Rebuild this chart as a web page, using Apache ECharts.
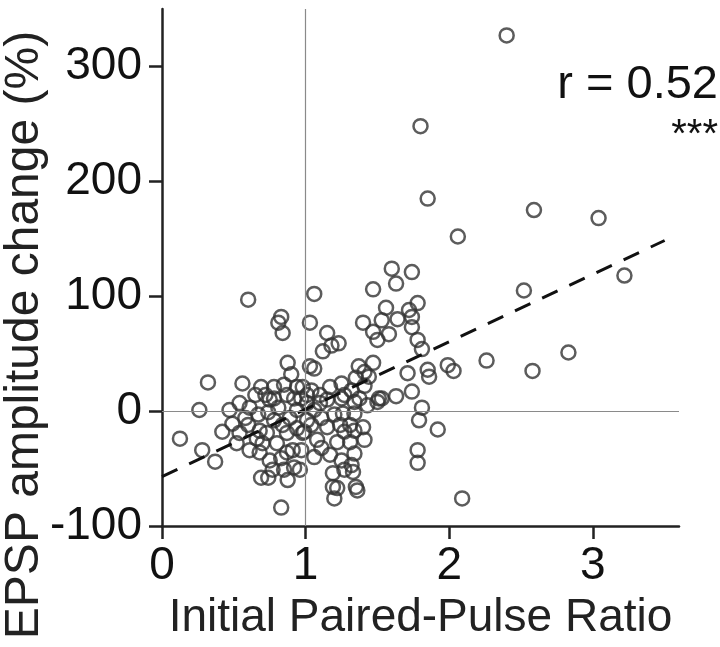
<!DOCTYPE html>
<html><head><meta charset="utf-8">
<script src="https://cdn.jsdelivr.net/npm/echarts@6/dist/echarts.min.js"></script>
<style>html,body{margin:0;padding:0;background:#fff}#c{width:720px;height:647px}</style>
</head><body><div id="c"></div>
<script>
const xTicks = [0, 1, 2, 3];
const yTicks = [-100, 0, 100, 200, 300];
const ppr = [2.40,1.80,1.85,2.06,2.59,3.04,2.52,3.22,2.83,2.58,2.26,1.99,2.03,2.09,1.81,1.79,1.92,1.78,1.78,1.85,1.86,1.71,1.74,1.63,1.53,1.60,1.74,1.63,1.78,1.56,1.72,1.74,1.64,1.53,1.74,1.58,1.78,1.81,1.50,1.47,1.06,1.03,1.40,1.47,1.15,1.23,1.18,1.12,1.03,1.06,1.37,1.47,1.41,1.35,1.44,1.25,1.17,1.41,1.51,1.25,1.34,0.98,1.01,0.97,
0.60,0.83,0.81,0.84,0.875,0.90,0.32,0.56,0.69,0.78,0.26,0.54,0.61,0.75,0.87,0.94,0.125,0.28,0.37,0.42,0.49,0.52,0.61,0.69,0.74,0.875,0.92,0.83,0.75,0.77,0.68,0.87,0.68,0.73,0.78,0.87,0.94,0.98,0.81,0.74,0.94,1.01,0.66,0.70,0.80,0.83,0.91,0.96,
0.99,1.08,1.11,1.06,1.15,1.20,1.24,1.26,1.34,1.40,1.22,1.31,1.25,1.34,1.32,1.33,1.19,1.19,1.22,1.20,1.35,1.36,1.01,1.10,1.50,
0.85,0.92,1.04,1.10,1.15,1.06,0.89,0.84,0.67,0.58,0.47,0.65,0.72,0.78,1.04,1.11,1.27,1.32,1.375,1.43,1.31,1.27,1.34,1.41,1.17,1.27,0.97,0.85,0.60,0.54];
const epsp = [327,248,185,152,175,168,105,118,51,35,44,40,35,-76,3,-8,-16,-34,-45,36,30,33,17,13,11,124,121,111,94,90,88,82,80,79,73,67,62,54,62,106,102,77,77,69,68,59,57,52,39,37,39,42,34,29,30,24,21,22,11,11,8,21,14,11,
97,82,77,68,42,32,25,24,21,21,1,7,3,10,14,21,-24,-34,-44,-18,-11,-28,-34,-58,-58,-60,-49,-84,-43,-51,-36,-36,-17,-19,-8,-19,-15,-19,3,-1,1,-8,-24,-28,-28,-41,-34,-51,
-18,-25,-32,-40,-14,-3,-12,-2,-2,-14,-27,-27,-43,-37,-47,-53,-54,-66,-67,-76,-66,-69,7,7,8,
23,11,18,14,10,1,-6,-12,-3,-6,1,14,14,11,-12,-6,14,18,11,5,-12,-18,-17,-25,-38,-51,-34,-51,-12,-19];
const fitX = [0, 3.5];
const fitY = [-57, 148.5];
const rLabel = 'r = 0.52';
const sigLabel = '***';
const xName = 'Initial Paired-Pulse Ratio';
const yName = 'EPSP amplitude change (%)';

const FONT = 'Liberation Sans, Arial, sans-serif';
const chart = echarts.init(document.getElementById('c'), null, {renderer: 'canvas'});
const points = ppr.map((x, i) => [x, epsp[i]]);
const fitLine = fitX.map((x, i) => [x, fitY[i]]);
chart.setOption({
  animation: false,
  backgroundColor: '#fff',
  grid: {left: 162, right: 41, top: 9, bottom: 121, containLabel: false, outerBoundsMode: 'none'},
  xAxis: {
    type: 'value', min: 0, max: 3.6,
    name: xName, nameLocation: 'middle', nameGap: 69,
    nameTextStyle: {fontFamily: FONT, fontSize: 46, color: '#222'},
    axisLine: {show: true, onZero: false, lineStyle: {color: '#222', width: 2.5}},
    axisTick: {show: true, inside: false, length: 13, customValues: xTicks, lineStyle: {color: '#222', width: 2.5}},
    axisLabel: {customValues: xTicks, margin: 17, fontFamily: FONT, fontSize: 46, color: '#111'},
    splitLine: {show: false}
  },
  yAxis: {
    type: 'value', min: -100, max: 350,
    axisLine: {show: true, onZero: false, lineStyle: {color: '#222', width: 2.5}},
    axisTick: {show: true, inside: false, length: 13, customValues: yTicks, lineStyle: {color: '#222', width: 2.5}},
    axisLabel: {customValues: yTicks, margin: 20, fontFamily: FONT, fontSize: 46, color: '#111'},
    splitLine: {show: false}
  },
  series: [
    {
      type: 'scatter', data: points, symbol: 'circle', symbolSize: 14, z: 3,
      itemStyle: {color: 'rgba(0,0,0,0)', borderColor: '#333', borderWidth: 2.5},
      markLine: {
        silent: true, symbol: ['none', 'none'], label: {show: false},
        lineStyle: {color: '#8a8a8a', width: 1.2, type: 'solid'},
        data: [{xAxis: 1}, {yAxis: 0}]
      }
    },
    {
      type: 'line', data: fitLine, symbol: 'none', z: 4,
      lineStyle: {color: '#111', width: 3, type: [17, 13]}
    }
  ],
  graphic: [
    {type: 'text', x: 25, y: 335, rotation: Math.PI / 2,
     style: {text: yName, font: '48px ' + FONT, fill: '#222', align: 'center', verticalAlign: 'middle'}},
    {type: 'text', right: 2, top: 62, style: {text: rLabel, font: '47px ' + FONT, fill: '#111'}},
    {type: 'text', right: 2, top: 116, style: {text: sigLabel, font: '40px ' + FONT, fill: '#111'}}
  ]
});
</script>
</body></html>
